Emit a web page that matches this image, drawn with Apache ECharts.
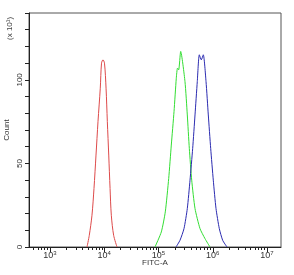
<!DOCTYPE html>
<html>
<head>
<meta charset="utf-8">
<script src="https://cdn.jsdelivr.net/npm/echarts@6/dist/echarts.min.js"></script>
<style>html,body{margin:0;padding:0;background:#fff}#c{width:294px;height:275px}</style>
</head>
<body>
<div id="c"></div>
<script>
// FITC-A intensities and counts (x10^1)
var redX   = [4810, 5300, 5940, 6470, 7050, 7670, 8450, 8910, 9480, 10100, 10800, 11400, 12100, 12800, 13500, 14900, 17200];
var redY   = [0, 7, 19, 35, 55, 75, 95, 110, 112, 110, 95, 75, 55, 35, 19, 7, 0];
var greenX = [86100, 112700, 133400, 154200, 172200, 193200, 212800, 223900, 235500, 256400, 307600, 339600, 369800, 409300, 471000, 582100, 719500, 889200];
var greenY = [0, 9, 21, 41, 61, 81, 101, 107, 106, 117, 99, 79, 59, 40, 23, 11, 5, 0];
var blueX  = [210400, 248900, 295100, 339600, 381100, 426600, 471000, 518800, 564900, 615200, 669900, 751600, 827900, 916200, 1023000, 1148000, 1321000, 1524000, 1832000];
var blueY  = [0, 4, 11, 23, 40, 59, 79, 99, 115, 112, 115, 99, 79, 59, 40, 23, 11, 4, 0];
var xDecades = [3, 4, 5, 6, 7];
var yLabels = [0, 50, 100];

var xMin = 2.613, xMax = 7.258;
function pts(xs, ys) { return xs.map(function (v, i) { return [Math.log10(v), ys[i]]; }); }
var minor = [];
for (var d = 2; d <= 7; d++) for (var k = 2; k <= 9; k++) {
  var p = Math.log10(k * Math.pow(10, d));
  if (p > xMin && p < xMax) minor.push(p);
}
var font = 'Liberation Sans';
var chart = echarts.init(document.getElementById('c'));
chart.setOption({
  animation: false,
  grid: { left: 29, right: 13, top: 13, bottom: 28, containLabel: false, outerBoundsMode: 'none', show: true, borderColor: '#555', borderWidth: 1, backgroundColor: 'transparent' },
  xAxis: [{
    type: 'value', min: xMin, max: xMax,
    name: 'FITC-A', nameLocation: 'middle', nameGap: 12, nameMoveOverlap: false,
    nameTextStyle: { fontFamily: font, fontSize: 8, color: '#333' },
    axisLine: { lineStyle: { color: '#222', width: 1 } },
    axisTick: { customValues: xDecades, length: 5, inside: false, lineStyle: { color: '#222' } },
    axisLabel: {
      customValues: xDecades, margin: 3,
      formatter: function (v) { return '{b|10}{s|' + Math.round(v) + '}'; },
      rich: { b: { fontFamily: font, fontSize: 9, color: '#333' }, s: { fontFamily: font, fontSize: 6, color: '#333', verticalAlign: 'top', padding: [0, 0, 5, 0] } }
    },
    splitLine: { show: false }
  }, {
    type: 'value', min: xMin, max: xMax, position: 'bottom',
    axisLine: { show: false },
    axisTick: { customValues: minor, length: 3, lineStyle: { color: '#222' } },
    axisLabel: { show: false },
    splitLine: { show: false }
  }],
  yAxis: {
    type: 'value', min: 0, max: 140, interval: 10,
    name: 'Count', nameLocation: 'middle', nameGap: 18, nameMoveOverlap: false,
    nameTextStyle: { fontFamily: font, fontSize: 8, color: '#333' },
    axisLine: { show: true, lineStyle: { color: '#222', width: 1 } },
    axisTick: { show: true, length: 4, lineStyle: { color: '#222' } },
    axisLabel: {
      rotate: 90, margin: 5, fontFamily: font, fontSize: 8, color: '#333',
      formatter: function (v) { return yLabels.indexOf(v) >= 0 ? String(v) : ''; }
    },
    splitLine: { show: false }
  },
  graphic: [{
    type: 'text', x: 6, y: 40, rotation: Math.PI / 2,
    style: { text: '(x 10¹)', fontFamily: font, fontSize: 8, fill: '#444' }
  }],
  series: [
    { type: 'line', data: pts(redX, redY), symbol: 'none', smooth: 0.3, lineStyle: { color: '#dd4a4a', width: 1 } },
    { type: 'line', data: pts(greenX, greenY), symbol: 'none', smooth: 0.2, lineStyle: { color: '#33dd33', width: 1 } },
    { type: 'line', data: pts(blueX, blueY), symbol: 'none', smooth: 0.2, lineStyle: { color: '#2b2bb0', width: 1 } }
  ]
});
</script>
</body>
</html>
